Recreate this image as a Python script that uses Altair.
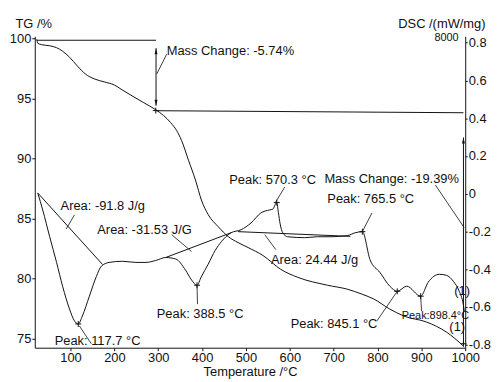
import altair as alt
import pandas as pd

FONT = "Liberation Sans"
INK = "#111111"

# ---------------- data ----------------
tg_T = [23.1, 25.3, 34.4, 52.5, 68.3, 81.9, 97.7, 115.8, 133.9, 154.3,
        176.9, 199.5, 217.5, 240.2, 267.3, 294.4, 312.5, 328.3, 341.9, 353.2,
        369.0, 384.9, 398.4, 414.3, 436.9, 459.5, 482.1, 504.8, 538.7, 579.4,
        617.9, 685.7, 730.9, 764.8, 792.0, 828.0, 860.0, 911.9, 957.0, 995.5]
tg_pct = [99.94, 99.61, 99.49, 99.40, 99.24, 98.95, 98.45, 97.71, 97.05, 96.64,
          96.39, 96.14, 95.73, 95.23, 94.65, 94.07, 93.58, 93.0, 92.34, 91.51,
          89.86, 88.21, 86.55, 85.31, 84.32, 83.50, 83.0, 82.59, 81.93, 80.77,
          80.11, 79.45, 79.12, 78.70, 78.29, 77.46, 76.88, 76.38, 75.55, 74.40]

dsc_T = [25.3, 36.6, 52.5, 68.3, 81.9, 97.7, 108, 117.7, 127, 143,
         159, 170, 188, 218, 249, 272, 294, 317, 340, 362,
         376, 388.5, 398, 414, 430, 444, 466, 489, 511.5, 534,
         553.8, 561, 570.3, 574, 578, 584, 595, 634, 663, 692,
         731, 749, 765.5, 783, 805.5, 828, 845.1, 866.6, 898.4, 915.6,
         941.2, 957, 972.9, 986.4, 995.5, 998]
dsc_v = [0.004, -0.086, -0.228, -0.365, -0.490, -0.611, -0.670, -0.690, -0.648, -0.543,
         -0.438, -0.385, -0.364, -0.358, -0.364, -0.364, -0.354, -0.338, -0.346, -0.404,
         -0.457, -0.485, -0.441, -0.373, -0.300, -0.254, -0.207, -0.191, -0.155, -0.102,
         -0.086, -0.082, -0.047, -0.10, -0.16, -0.207, -0.228, -0.233, -0.228, -0.228,
         -0.222, -0.207, -0.201, -0.350, -0.417, -0.490, -0.517, -0.490, -0.543, -0.469,
         -0.427, -0.432, -0.464, -0.517, -0.585, -0.622]

# TG reference lines / arrows (T1, TG1, T2, TG2)
tg_seg_T1 = [23, 295, 295, 996]
tg_seg_Y1 = [99.86, 93.99, 99.2, 91.76]
tg_seg_T2 = [295, 996, 295, 996]
tg_seg_Y2 = [99.86, 93.82, 94.4, 74.57]

arrow_up_T = [295, 996]
arrow_up_Y = [99.2, 91.76]
arrow_dn_T = [295]
arrow_dn_Y = [94.4]
tg_mark_T = [294.4, 996]
tg_mark_Y = [94.0, 74.57]

# DSC baselines
base_T1 = [26, 317, 482]
base_V1 = [0.002, -0.338, -0.201]
base_T2 = [173, 466, 738]
base_V2 = [-0.375, -0.207, -0.226]

# leader lines
lead_T1 = [296.6, 90.2, 330.6, 568, 932, 765.5, 543, 120.3, 388.5, 845.1, 898.4]
lead_V1 = [0.634, -0.187, -0.217, -0.044, 0.046, -0.201, -0.217, -0.701, -0.485, -0.517, -0.543]
lead_T2 = [319.3, 109, 375.9, 588.4, 997.7, 787.4, 568, 147.4, 389.5, 798.7, 900.5]
lead_V2 = [0.739, -0.112, -0.306, 0.035, -0.180, -0.102, -0.296, -0.795, -0.585, -0.674, -0.622]

peak_T = [117.7, 388.5, 570.3, 765.5, 845.1, 898.4]
peak_V = [-0.690, -0.485, -0.047, -0.201, -0.517, -0.543]

ann_text = ["Mass Change: -5.74%", "Area: -91.8 J/g", "Area: -31.53 J/G",
            "Peak: 570.3 °C", "Mass Change: -19.39%", "Peak: 765.5 °C",
            "Area: 24.44 J/g", "Peak: 117.7 °C", "Peak: 388.5 °C",
            "Peak: 845.1 °C", "(1)", "(1)"]
ann_T = [319.3, 77.3, 161, 462, 678.9, 685.6, 557, 63.8, 296.7, 601.9, 975, 963.8]
ann_V = [0.755, -0.065, -0.194, 0.072, 0.077, -0.028, -0.354, -0.779, -0.637, -0.690, -0.518, -0.706]

small_text = ["Peak:898.4°C", "8000"]
small_T = [855.3, 929.8]
small_V = [-0.649, 0.823]

x_ticks = [100, 200, 300, 400, 500, 600, 700, 800, 900, 1000]
tg_ticks = [75, 80, 85, 90, 95, 100]
dsc_ticks = [-0.8, -0.6, -0.4, -0.2, 0.0, 0.2, 0.4, 0.6, 0.8]

# ---------------- scales / axes ----------------
xs = alt.Scale(domain=[18.5, 1000], nice=False, zero=False)
tgs = alt.Scale(domain=[74.24, 100.19], nice=False, zero=False)
dss = alt.Scale(domain=[-0.816, 0.834], nice=False, zero=False)

xaxis = alt.Axis(title="Temperature /°C", values=x_ticks, format="d",
                 labelFlush=False, labelOverlap=False,
                 titleX=217, titleY=24, titleBaseline="middle", titleAlign="center")
tgaxis = alt.Axis(title="TG /%", orient="left", values=tg_ticks, format="d",
                  titleAngle=0, titleX=-20, titleY=-13, titleAlign="left",
                  titleBaseline="middle", labelOverlap=False)
dsaxis = alt.Axis(title="DSC /(mW/mg)", orient="right", values=dsc_ticks,
                  labelExpr="datum.value < 0 ? '-' + format(-datum.value, '.1f') : (datum.value == 0 ? '0' : format(datum.value, '.1f'))",
                  titleAngle=0, titleX=20, titleY=-13, titleAlign="right",
                  titleBaseline="middle", labelOverlap=False, tickSize=2)


def X(f):
    return alt.X(f"{f}:Q", scale=xs, axis=xaxis)


def YT(f):
    return alt.Y(f"{f}:Q", scale=tgs, axis=tgaxis)


def YD(f):
    return alt.Y(f"{f}:Q", scale=dss, axis=dsaxis)


tg_df = pd.DataFrame({"T": tg_T, "TG": tg_pct})
dsc_df = pd.DataFrame({"T": dsc_T, "V": dsc_v})
tgseg_df = pd.DataFrame({"T1": tg_seg_T1, "Y1": tg_seg_Y1, "T2": tg_seg_T2, "Y2": tg_seg_Y2})
up_df = pd.DataFrame({"T": arrow_up_T, "TG": arrow_up_Y})
dn_df = pd.DataFrame({"T": arrow_dn_T, "TG": arrow_dn_Y})
tgm_df = pd.DataFrame({"T": tg_mark_T, "TG": tg_mark_Y})
base_df = pd.DataFrame({"T1": base_T1, "V1": base_V1, "T2": base_T2, "V2": base_V2})
lead_df = pd.DataFrame({"T1": lead_T1, "V1": lead_V1, "T2": lead_T2, "V2": lead_V2})
peak_df = pd.DataFrame({"T": peak_T, "V": peak_V})
ann_df = pd.DataFrame({"T": ann_T, "V": ann_V, "label": ann_text})
small_df = pd.DataFrame({"T": small_T, "V": small_V, "label": small_text})

CROSS = "M-1,0L1,0M0,-1L0,1"
UP = "M0,0L0.5,2L-0.5,2Z"
DOWN = "M0,0L0.5,-2L-0.5,-2Z"

# ---------------- TG group ----------------
tg_line = alt.Chart(tg_df).mark_line(color=INK, strokeWidth=1, interpolate="monotone").encode(
    x=X("T"), y=YT("TG"))
tg_rules = alt.Chart(tgseg_df).mark_rule(color=INK, strokeWidth=1).encode(
    x=X("T1"), x2=alt.X2("T2"), y=YT("Y1"), y2=alt.Y2("Y2"))
tg_up = alt.Chart(up_df).mark_point(shape=UP, size=36, filled=True, color=INK, opacity=1).encode(
    x=X("T"), y=YT("TG"))
tg_dn = alt.Chart(dn_df).mark_point(shape=DOWN, size=36, filled=True, color=INK, opacity=1).encode(
    x=X("T"), y=YT("TG"))
tg_marks = alt.Chart(tgm_df).mark_point(shape=CROSS, size=36, filled=False, color=INK,
                                        strokeWidth=1, opacity=1).encode(x=X("T"), y=YT("TG"))
tg_group = alt.layer(tg_line, tg_rules, tg_up, tg_dn, tg_marks)

# ---------------- DSC group ----------------
dsc_line = alt.Chart(dsc_df).mark_line(color=INK, strokeWidth=1, interpolate="monotone").encode(
    x=X("T"), y=YD("V"))
base_rules = alt.Chart(base_df).mark_rule(color=INK, strokeWidth=1).encode(
    x=X("T1"), x2=alt.X2("T2"), y=YD("V1"), y2=alt.Y2("V2"))
lead_rules = alt.Chart(lead_df).mark_rule(color=INK, strokeWidth=0.8).encode(
    x=X("T1"), x2=alt.X2("T2"), y=YD("V1"), y2=alt.Y2("V2"))
peaks = alt.Chart(peak_df).mark_point(shape=CROSS, size=36, filled=False, color=INK,
                                      strokeWidth=1, opacity=1).encode(x=X("T"), y=YD("V"))
texts = alt.Chart(ann_df).mark_text(align="left", baseline="middle", font=FONT,
                                    fontSize=13, color=INK).encode(
    x=X("T"), y=YD("V"), text="label:N")
small = alt.Chart(small_df).mark_text(align="left", baseline="middle", font=FONT,
                                      fontSize=11, color=INK).encode(
    x=X("T"), y=YD("V"), text="label:N")
dsc_group = alt.layer(dsc_line, base_rules, lead_rules, peaks, texts, small)

chart = alt.layer(tg_group, dsc_group).resolve_scale(y="independent").properties(
    width=434, height=314,
    padding={"left": 27, "top": 27, "right": 26, "bottom": 30},
    autosize=alt.AutoSizeParams(type="none"),
    background="white",
).configure_axis(
    labelFont=FONT, titleFont=FONT, labelFontSize=13, titleFontSize=13,
    titleFontWeight="normal", domainColor=INK, tickColor=INK, labelColor=INK,
    titleColor=INK, grid=False, tickSize=3, labelPadding=1, domainWidth=1,
).configure_view(stroke=None)

chart.save("out.html", embed_options={"renderer": "svg", "actions": False})
